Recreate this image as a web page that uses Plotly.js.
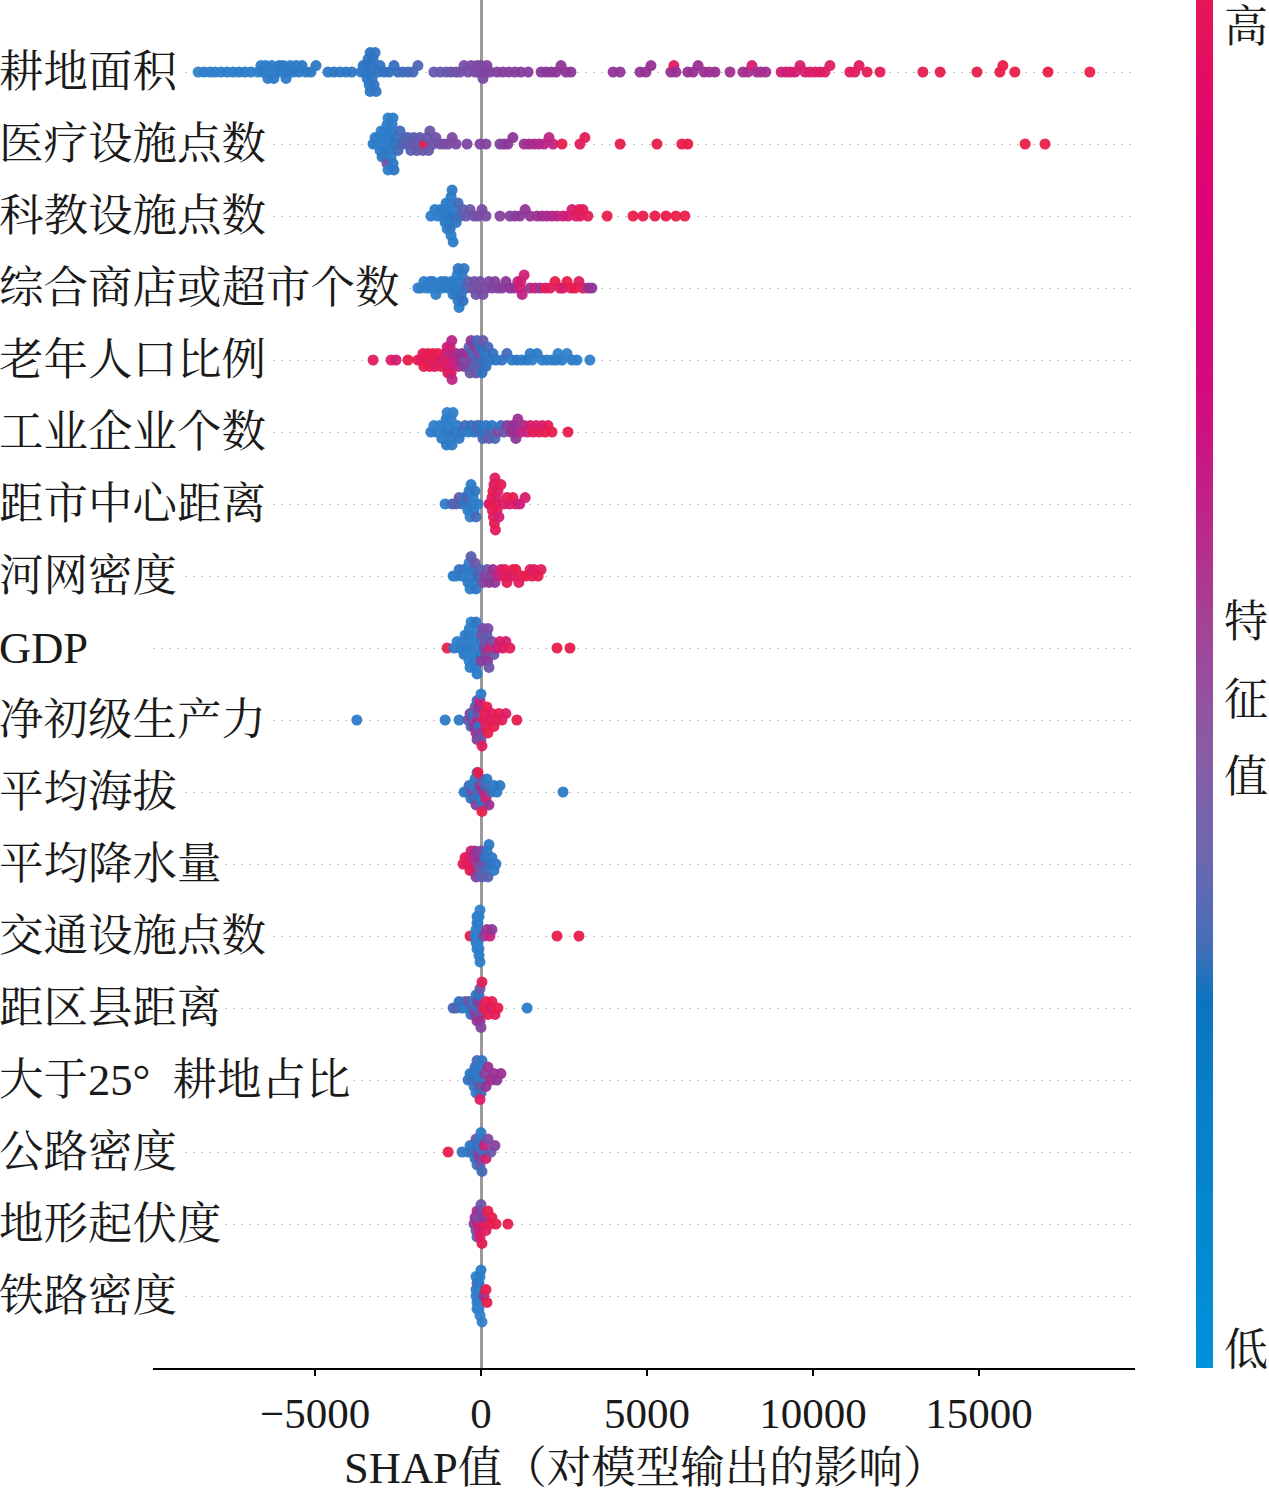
<!DOCTYPE html>
<html><head><meta charset="utf-8">
<script src="https://cdn.plot.ly/plotly-3.0.1.min.js"></script>
<style>html,body{margin:0;padding:0;background:#fff}</style>
</head><body><div id="chart" style="width:1269px;height:1496px"></div>
<script>
// ---------------- DATA ----------------
const categories = ['耕地面积','医疗设施点数','科教设施点数','综合商店或超市个数','老年人口比例','工业企业个数','距市中心距离','河网密度','GDP','净初级生产力','平均海拔','平均降水量','交通设施点数','距区县距离','大于25°\u2002耕地占比','公路密度','地形起伏度','铁路密度'];
const xTickVals = [-5000, 0, 5000, 10000, 15000];
const xTickText = ['\u22125000', '0', '5000', '10000', '15000'];

const croplandShap = [-8520,-8340,-8160,-8010,-7830,-7650,-7470,-7290,-7110,-6930,
-6720,-6630,-6570,-6480,-6420,-6360,-6300,-6240,-6180,-6080,-6020,-5960,-5870,-5810,-5750,-5660,-5570,-5480,-5390,-5270,-5120,-4970,
-4610,-4430,-4250,-4070,-3890,
-3610,-3550,-3490,-3460,-3430,-3400,-3370,-3340,-3340,-3310,-3280,-3280,-3250,-3220,-3190,-3160,-3100,-3040,
-2920,-2770,-2620,-2500,-2350,-2200,-2050,-1900,
-1420,-1230,-1050,-900,-750,-630,-510,-390,-300,
-180,-120,-60,0,60,120,180,270,
480,660,840,1020,1200,1420,
1810,1960,2110,2260,2410,2560,2710,
3980,4190,4790,4970,5120,
5720,5810,5870,
6230,6390,6540,6720,6870,7050,
7500,
7890,8040,8160,8310,8430,8580,
9040,9190,9310,9460,9610,9760,9910,10060,10210,10360,10510,
11110,11260,11390,
11630,12020,
13310,13830,
14940,15630,15720,16080,
17080,18340];
const croplandFeat = [.08,.1,.12,.1,.12,.14,.12,.14,.15,.13,
.12,.14,.15,.13,.16,.14,.15,.17,.14,.16,.15,.17,.16,.18,.15,.17,.16,.18,.17,.18,.17,.19,
.18,.19,.2,.18,.2,
.18,.2,.19,.21,.2,.22,.19,.21,.2,.22,.21,.2,.23,.21,.22,.2,.23,.22,
.24,.25,.26,.27,.28,.29,.3,.32,
.38,.39,.4,.41,.42,.43,.44,.44,.45,
.45,.46,.46,.47,.47,.48,.48,.49,
.5,.5,.51,.51,.52,.52,
.53,.53,.54,.54,.55,.55,.55,
.56,.56,.57,.57,.58,
.58,.85,.58,
.58,.59,.59,.6,.6,.6,
.61,
.61,.62,.8,.62,.63,.62,
.76,.78,.79,.8,.8,.82,.82,.83,.84,.85,.86,
.87,.88,.88,
.9,.91,
.93,.94,
.95,.96,.96,.97,
.98,1];

const medicalShap = [-3250,-3190,-3130,-3070,-3040,-3010,-2980,-2950,-2920,-2890,-2890,-2860,-2830,-2830,-2800,-2800,-2770,-2770,-2740,-2710,-2710,-2680,-2650,-2650,-2620,-2590,-2560,-2500,-2440,
-2380,-2290,-2250,-2200,-2110,-2060,-2020,-1930,-1880,-1840,-1750,-1690,-1630,-1580,-1540,-1450,-1360,-1230,-1110,-990,-870,-750,
-420,-30,150,570,690,810,960,
1300,1450,1600,1750,1900,2050,2170,
2440,2980,3130,4190,5300,6050,6230,16390,16990];
const medicalFeat = [.15,.14,.16,.12,.15,.13,.17,.14,.12,.16,.13,.15,.14,.45,.12,.16,.14,.13,.17,.15,.12,.16,.18,.14,.2,.22,.25,.28,.3,
.32,.33,.35,.34,.35,.38,.36,.37,.4,.37,.38,.95,.39,.4,.4,.41,.42,.43,.44,.45,.46,.47,
.48,.49,.5,.5,.52,.53,.55,
.6,.62,.63,.66,.68,.7,.72,
.95,.85,.9,.95,.95,.97,.96,.98,1];

const eduSciShap = [-1510,-1390,-1300,-1210,-1150,-1110,-1080,-1050,-1020,-990,-990,-960,-930,-930,-900,-900,-870,-840,-810,-780,-750,-690,-630,-540,
-450,-330,-210,-90,30,150,
570,870,1020,1170,1330,1480,
1690,1840,1990,2140,2290,
2470,2620,2740,2860,2950,2980,3070,3220,
3800,4580,4880,5240,5570,5870,6140];
const eduSciFeat = [.12,.15,.13,.16,.14,.12,.18,.15,.13,.17,.14,.16,.12,.2,.15,.13,.18,.16,.25,.14,.22,.3,.28,.35,
.38,.4,.42,.44,.45,.46,
.5,.5,.52,.53,.55,.56,
.6,.62,.64,.66,.68,
.75,.78,.8,.85,.9,.85,.88,.9,
.95,.96,.95,.97,.96,.98,1];

const retailShap = [-1900,-1810,-1720,-1630,-1540,-1500,-1450,-1360,-1270,-1200,-1170,-1080,-990,
-900,-840,-810,-780,-750,-720,-690,-690,-660,-630,-630,-600,-570,-540,-510,-450,-390,
-270,-200,-150,-90,-30,60,150,240,330,420,510,630,750,870,990,
1110,1170,1200,1240,1300,
1480,1630,1780,1930,2080,2230,2380,2470,2590,2710,2830,2950,3070,3220,3340];
const retailFeat = [.1,.12,.11,.13,.12,.13,.14,.13,.15,.15,.14,.16,.15,
.15,.12,.18,.14,.16,.13,.17,.2,.15,.18,.14,.22,.16,.25,.2,.3,.35,
.4,.42,.42,.44,.44,.45,.46,.47,.48,.5,.5,.52,.53,.55,.56,
.7,.75,.8,.72,.78,
.6,.8,.55,.9,.85,.95,.9,.8,.95,.9,.95,.85,.9,.6,.55];

const elderlyShap = [-3250,-2710,-2560,-2200,
-1900,-1810,-1750,-1720,-1630,-1600,-1540,-1480,-1450,-1390,-1350,-1300,
-1200,-1140,-1080,-1050,-1020,-1000,-990,-960,-950,-930,-900,-880,-870,-810,-750,-690,-630,-570,
-510,-450,-420,-390,-360,-330,-300,-270,-240,-210,-180,-150,-120,-90,-60,-30,0,30,60,90,120,150,210,270,360,450,
630,780,930,1080,1230,1390,1480,1540,1690,1840,1990,2140,2260,2320,2440,2590,2740,2890,3280];
const elderlyFeat = [.85,.85,.8,.95,
.95,.9,.9,.95,.9,.92,.95,.9,.95,.85,.88,.95,
.9,.8,.85,.9,.75,.85,.9,.7,.8,.8,.85,.7,.7,.75,.65,.7,.6,.55,
.5,.45,.6,.5,.35,.4,.55,.45,.3,.35,.5,.4,.3,.3,.45,.35,.25,.25,.4,.3,.2,.25,.3,.2,.25,.2,
.2,.3,.15,.2,.15,.2,.15,.1,.15,.1,.15,.1,.15,.1,.15,.1,.15,.12,.1];

const industryShap = [-1510,-1420,-1330,-1240,-1180,-1110,-1100,-1080,-1050,-1040,-1020,-990,-960,-930,-900,-870,-840,-780,-720,-660,
-570,-480,-390,-300,-210,-120,-60,-30,60,90,150,240,270,330,420,510,600,690,780,
900,950,990,1020,1050,1110,1200,1300,1390,1480,1570,1660,1750,1840,1930,2020,2140,2620];
const industryFeat = [.15,.1,.15,.1,.15,.1,.12,.1,.15,.18,.1,.2,.1,.15,.1,.15,.1,.2,.15,.2,
.2,.3,.15,.25,.2,.35,.3,.2,.3,.25,.15,.4,.35,.2,.3,.45,.25,.4,.5,
.55,.6,.6,.55,.55,.6,.7,.65,.75,.8,.9,.85,.9,.8,.95,.9,.95,.95];

const distCityShap = [-1080,-870,-750,-660,-570,-510,-450,-420,-390,-360,-330,-300,-270,-240,-210,-180,-150,-90,
240,300,330,345,360,375,390,405,420,435,450,465,480,510,540,600,690,780,870,960,1050,1170,1330];
const distCityFeat = [.15,.3,.35,.4,.3,.15,.2,.35,.15,.2,.1,.15,.2,.1,.15,.2,.3,.15,
.8,.9,.85,.9,.95,.85,.9,.95,.85,.9,.95,.85,.9,.85,.8,.9,.85,.9,.8,.95,.85,.75,.8];

const riverShap = [-840,-750,-660,-570,-510,-450,-420,-390,-360,-330,-300,-270,-240,-210,-180,-150,-90,-30,
60,120,180,240,300,360,420,
510,600,690,720,780,870,960,990,1050,1140,1230,1350,1480,1540,1600,1720,1810];
const riverFeat = [.15,.1,.2,.15,.3,.1,.15,.2,.1,.15,.35,.1,.2,.15,.4,.2,.3,.35,
.45,.5,.4,.55,.5,.6,.55,
.7,.8,.85,.9,.9,.85,.9,.85,.95,.85,.9,.95,.9,.9,.85,.95,.9];

const gdpShap = [-1020,
-810,-720,-630,-570,-510,-480,-450,-420,-400,-390,-360,-350,-330,-300,-270,-250,-240,-210,-200,-180,-160,-150,-120,-60,0,-30,30,0,
60,100,120,150,180,200,210,240,270,330,390,
480,570,660,750,870,
2290,2680];
const gdpFeat = [.95,
.15,.1,.15,.1,.2,.1,.15,.1,.12,.2,.1,.14,.15,.1,.2,.12,.1,.15,.13,.1,.16,.2,.15,.1,.2,.15,.45,.5,
.45,.5,.4,.5,.35,.55,.45,.4,.8,.45,.4,
.75,.8,.85,.8,.9,
.95,.95];

const nppShap = [-3740,-1080,-660,
-390,-330,-300,-270,-240,-210,-180,-150,-120,-120,-90,-90,-60,-60,-30,-30,0,0,30,
90,120,150,180,210,270,330,390,450,540,630,750,1080];
const nppFeat = [.15,.15,.2,
.4,.5,.3,.45,.2,.55,.4,.6,.3,.5,.7,.45,.2,.6,.5,.75,.4,.15,.85,
.9,.9,.85,.95,.95,.9,.85,.95,.9,.95,.9,.85,.95];

const elevationShap = [-510,-420,-360,-300,-270,-240,-210,-180,-150,-120,-60,-30,-30,0,60,-90,30,90,120,150,180,240,300,390,480,570,2470];
const elevationFeat = [.2,.15,.3,.2,.45,.15,.3,.2,.5,.2,.3,.6,.2,.4,.25,.95,.95,.7,.3,.8,.2,.6,.3,.2,.15,.2,.15];

const precipShap = [-540,-480,-420,-360,-330,-300,-270,-240,-210,-180,-150,-90,-60,-30,0,30,90,120,150,180,210,240,270,330,390,450];
const precipFeat = [.9,.95,.85,.9,.95,.8,.9,.7,.85,.6,.5,.45,.55,.4,.5,.35,.45,.25,.3,.2,.35,.2,.25,.2,.15,.2];

const transportShap = [-330,-180,-150,-150,-120,-120,-120,-90,-90,-90,-90,-60,-60,-60,-30,-30,90,180,270,330,2290,2950];
const transportFeat = [.95,.12,.1,.15,.1,.12,.15,.1,.12,.1,.15,.1,.12,.15,.1,.12,.5,.6,.75,.55,.95,.95];

const distCountyShap = [-840,-750,-660,-570,-480,-420,-360,-300,-240,-210,-180,-150,-120,-90,-90,-60,-60,-30,-30,0,30,90,150,210,270,330,420,510,1390];
const distCountyFeat = [.3,.35,.25,.2,.3,.15,.4,.2,.35,.15,.5,.2,.6,.3,.55,.45,.2,.6,.4,.5,.9,.95,.9,.95,.85,.95,.9,.95,.15];

const slope25Shap = [-390,-330,-270,-240,-210,-180,-150,-120,-90,-90,-60,-30,0,30,-30,90,100,150,210,300,390,480,600];
const slope25Feat = [.2,.15,.3,.2,.15,.25,.15,.3,.2,.15,.4,.15,.3,.2,.85,.2,.5,.55,.6,.65,.6,.55,.6];

const roadShap = [-990,-570,-390,-330,-270,-210,-180,-150,-120,-90,-90,-60,-30,-30,0,30,90,100,150,210,300,420];
const roadFeat = [.95,.2,.15,.2,.3,.15,.2,.4,.15,.45,.2,.5,.2,.4,.15,.3,.2,.75,.8,.45,.4,.5];

const reliefShap = [-210,-180,-150,-120,-120,-90,-90,-60,-30,-30,0,30,90,100,150,210,270,330,450,810];
const reliefFeat = [.5,.6,.4,.7,.35,.8,.45,.75,.5,.85,.4,.9,.9,.55,.85,.95,.9,.95,.95,.95];

const railShap = [-150,-150,-120,-120,-120,-150,-90,-90,-60,-60,-60,-30,-30,0,30,90,150,180];
const railFeat = [.1,.12,.1,.4,.12,.1,.1,.12,.1,.15,.1,.12,.1,.15,.1,.6,.95,.95];

// ---------------- LAYOUT OF THE SWARM ----------------
const rows = [
  [croplandShap, croplandFeat],[medicalShap, medicalFeat],[eduSciShap, eduSciFeat],[retailShap, retailFeat],
  [elderlyShap, elderlyFeat],[industryShap, industryFeat],[distCityShap, distCityFeat],[riverShap, riverFeat],
  [gdpShap, gdpFeat],[nppShap, nppFeat],[elevationShap, elevationFeat],[precipShap, precipFeat],
  [transportShap, transportFeat],[distCountyShap, distCountyFeat],[slope25Shap, slope25Feat],[roadShap, roadFeat],
  [reliefShap, reliefFeat],[railShap, railFeat]
];
const BIN = 180, DY = 0.09;
function swarm(vals){
  const bins = vals.map(v => Math.round(v / BIN) + 0);
  const idx = vals.map((v,i)=>i).sort((a,b)=> (bins[a]-bins[b]) || (a-b));
  const ys = new Array(vals.length).fill(0);
  let layer = 0, last = null;
  for (const i of idx){
    if (bins[i] !== last) layer = 0;
    ys[i] = Math.ceil(layer/2) * ((layer%2)*2-1) * DY;
    layer++; last = bins[i];
  }
  return ys;
}
const X = [], Y = [], C = [];
const N = categories.length;
rows.forEach(([s,f], r) => {
  const n = Math.min(s.length, f.length);
  const vals = s.slice(0, n);
  const off = swarm(vals);
  for (let i=0;i<n;i++){ X.push(vals[i]); Y.push(N-1-r+off[i]); C.push(f[i]); }
});

// colours of the dots
const dotScale = [
  [0.0,'rgb(56,136,210)'],[0.15,'rgb(44,124,200)'],[0.25,'rgb(48,114,192)'],[0.35,'rgb(90,96,176)'],
  [0.45,'rgb(122,76,164)'],[0.55,'rgb(142,54,152)'],[0.65,'rgb(172,42,140)'],[0.75,'rgb(204,32,124)'],
  [0.85,'rgb(222,28,100)'],[0.95,'rgb(232,30,76)'],[1.0,'rgb(234,32,70)']
];
// colours of the colour bar
const barScale = [
  [0.0,'rgb(0,146,218)'],[0.1,'rgb(4,136,208)'],[0.2,'rgb(8,126,200)'],[0.27,'rgb(12,116,190)'],
  [0.31,'rgb(70,110,184)'],[0.37,'rgb(106,104,176)'],[0.45,'rgb(136,92,164)'],[0.54,'rgb(162,68,152)'],
  [0.62,'rgb(188,38,140)'],[0.7,'rgb(210,12,128)'],[0.85,'rgb(222,2,120)'],[0.93,'rgb(226,10,104)'],[1.0,'rgb(230,22,86)']
];

const serif = "'Liberation Serif','Noto Serif CJK SC','Noto Sans CJK SC',serif";
const plotL = 153, plotW = 1269-153-134, plotH = 1496-128;
const px2paperX = p => (p - plotL)/plotW;
const px2paperY = p => (plotH - p)/plotH;

const annotations = categories.map((c, r) => ({
  text: c, xref:'paper', yref:'y', x: px2paperX(-4), y: N-1-r, xanchor:'left', yanchor:'middle',
  showarrow:false, bgcolor:'#ffffff', borderpad:2, font:{family:serif, size:44.5, color:'#1a1a1a'}
}));
annotations.push({text:'SHAP值（对模型输出的影响）', xref:'paper', yref:'paper', x:px2paperX(645), y:px2paperY(1468),
  xanchor:'center', yanchor:'middle', showarrow:false, font:{family:serif, size:44.5, color:'#1a1a1a'}});
[['高',27],['特',622],['征',700],['值',778],['低',1350]].forEach(([t,py]) => annotations.push({
  text:t, xref:'paper', yref:'paper', x:px2paperX(1246), y:px2paperY(py), xanchor:'center', yanchor:'middle',
  showarrow:false, font:{family:serif, size:44, color:'#1a1a1a'}}));

const dots = {
  type:'scatter', mode:'markers', x:X, y:Y, hoverinfo:'skip', cliponaxis:false,
  marker:{size:11, color:C, colorscale:dotScale, cmin:0, cmax:1, opacity:0.95, line:{width:0}, showscale:false}
};
const bar = {
  type:'scatter', mode:'markers', x:[null, null], y:[null, null], hoverinfo:'skip',
  marker:{color:[0,1], colorscale:barScale, cmin:0, cmax:1, showscale:true,
    colorbar:{x:px2paperX(1196), xanchor:'left', xpad:0, ypad:0, y:0.5, yanchor:'middle', len:1, lenmode:'fraction',
      thickness:17, thicknessmode:'pixels', outlinewidth:0, showticklabels:false, ticks:''}}
};

const layout = {
  width:1269, height:1496, margin:{l:plotL, r:134, t:0, b:128},
  paper_bgcolor:'#ffffff', plot_bgcolor:'#ffffff', showlegend:false,
  xaxis:{range:[-9880,19700], tickvals:xTickVals, ticktext:xTickText, showline:true, linecolor:'#000', linewidth:2,
    ticks:'outside', ticklen:6, tickwidth:1.5, tickcolor:'#000', showgrid:false,
    zeroline:true, zerolinecolor:'#9a9a9a', zerolinewidth:3,
    tickfont:{family:serif, size:43, color:'#1a1a1a'}},
  yaxis:{range:[-1,N], tickvals:categories.map((c,i)=>i), showticklabels:false, ticks:'', showgrid:true,
    gridcolor:'#c4c4c4', gridwidth:1, griddash:'2px,6px', zeroline:false, showline:false},
  annotations: annotations
};
Plotly.newPlot('chart', [dots, bar], layout, {staticPlot:true, displayModeBar:false});
</script></body></html>
